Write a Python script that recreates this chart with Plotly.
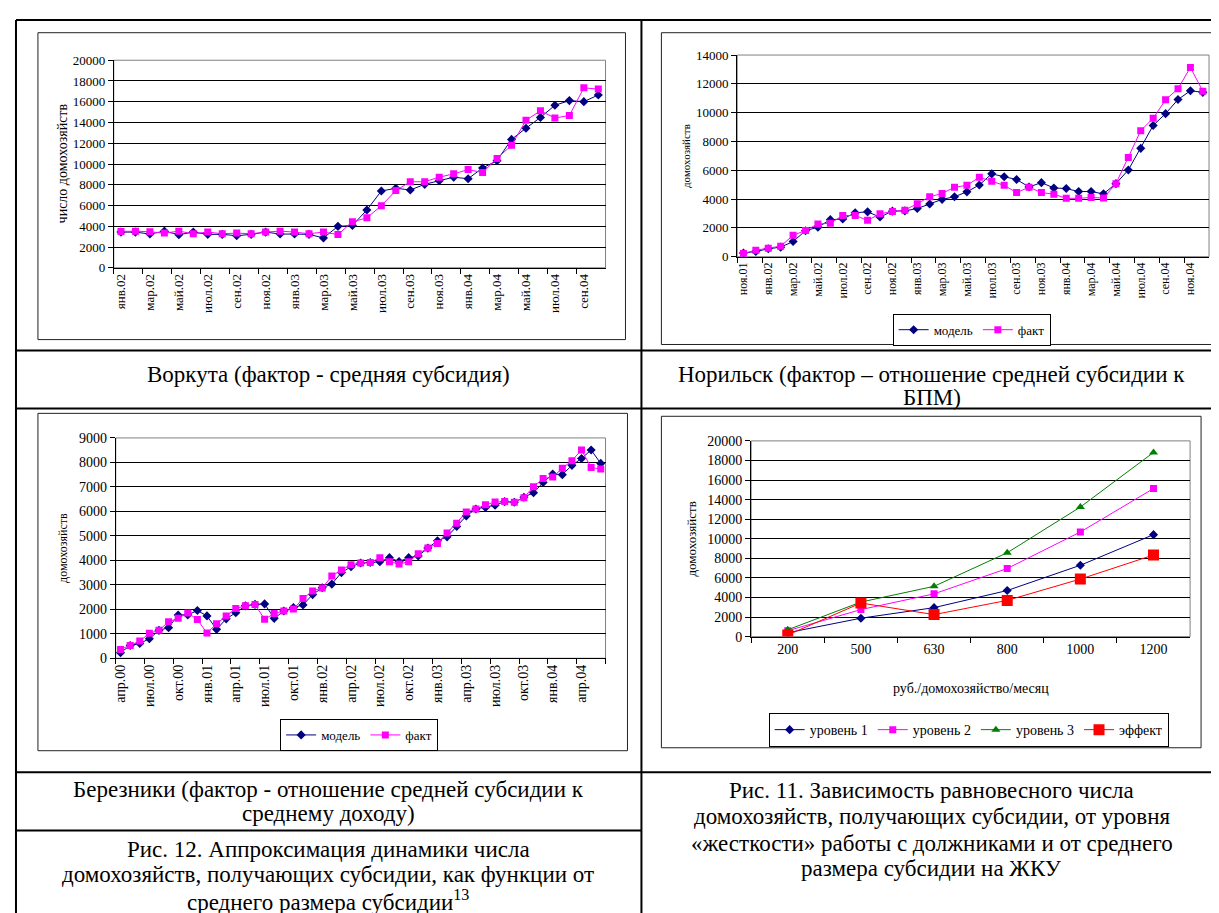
import plotly.graph_objects as go

W, H = 1219, 913
SERIF = "Liberation Serif, Times New Roman, serif"


def px(x):
    return x / W


def py(y):
    return 1 - y / H


MONTHS = ["янв", "фев", "мар", "апр", "май", "июн", "июл", "авг", "сен", "окт", "ноя", "дек"]


def month_labels(start_month, start_year, count):
    out = []
    m, y = start_month, start_year
    for _ in range(count):
        out.append(f"{MONTHS[m]}.{y:02d}")
        m += 1
        if m == 12:
            m, y = 0, y + 1
    return out


# ---------------- data ----------------
vorkuta_cats = month_labels(0, 2, 34)  # янв.02 .. окт.04
vorkuta_model = [3440, 3440, 3250, 3530, 3190, 3440, 3220, 3220, 3090, 3220, 3440, 3250, 3250, 3220, 2880,
                 3990, 4080, 5570, 7400, 7660, 7500, 8040, 8390, 8730, 8580, 9620, 10320, 12370, 13450,
                 14490, 15660, 16110, 16010, 16650]
vorkuta_fact = [3500, 3530, 3470, 3340, 3530, 3280, 3440, 3280, 3340, 3280, 3440, 3530, 3440, 3280, 3440,
                3200, 4430, 4810, 5980, 7440, 8290, 8290, 8730, 9050, 9460, 9180, 10540, 11800, 14210,
                15130, 14430, 14680, 17340, 17220]

norilsk_cats = month_labels(10, 1, 38)  # ноя.01 .. дек.04
norilsk_model = [250, 360, 545, 660, 1050, 1800, 2050, 2570, 2610, 3050, 3110, 2750, 3160, 3180, 3340, 3660,
                 3980, 4160, 4500, 4980, 5750, 5550, 5360, 4840, 5140, 4770, 4730, 4520, 4520, 4360, 5070,
                 6020, 7520, 9110, 9930, 10910, 11520, 11410]
norilsk_fact = [220, 450, 590, 730, 1480, 1820, 2270, 2320, 2860, 2860, 2520, 2980, 3140, 3230, 3680, 4160,
                4390, 4820, 4950, 5520, 5230, 4950, 4450, 4820, 4450, 4340, 4050, 4050, 4110, 4070, 5070,
                6890, 8750, 9610, 10890, 11660, 13140, 11480]

berezniki_cats = month_labels(3, 0, 51)  # апр.00 .. июн.04
berezniki_model = [230, 520, 600, 800, 1140, 1250, 1770, 1770, 1950, 1730, 1180, 1610, 1860, 2140, 2200,
                   2220, 1630, 1930, 2070, 2180, 2600, 2880, 3030, 3500, 3740, 3890, 3910, 3940, 4110, 3950,
                   4110, 4180, 4500, 4800, 4960, 5380, 5810, 6100, 6160, 6250, 6400, 6370, 6580, 6760, 7180,
                   7530, 7500, 7880, 8160, 8510, 7960]
berezniki_fact = [360, 520, 700, 1020, 1140, 1490, 1630, 1850, 1580, 1030, 1410, 1730, 2030, 2140, 2200,
                  1590, 1830, 1930, 2010, 2440, 2750, 2870, 3360, 3610, 3820, 3890, 3910, 4110, 3940, 3850,
                  3940, 4270, 4500, 4690, 5120, 5520, 5970, 6100, 6270, 6380, 6400, 6370, 6560, 7010, 7340,
                  7400, 7760, 8070, 8510, 7790, 7730]

subsidy_cats = ["200", "500", "630", "800", "1000", "1200"]
level1 = [400, 1880, 2960, 4710, 7290, 10420]
level2 = [600, 2760, 4370, 6960, 10690, 15130]
level3 = [700, 3530, 5140, 8570, 13240, 18820]
effect = [170, 3430, 2250, 3700, 5880, 8340]

NAVY = "#000080"
MAGENTA = "#FF00FF"
GREEN = "#008000"
RED = "#FF0000"

fig = go.Figure()


def model_fact(x, model, fact, xa, ya, legend, show):
    fig.add_trace(go.Scatter(x=x, y=model, name="модель", mode="lines+markers", xaxis=xa, yaxis=ya,
                             line=dict(color=NAVY, width=1), marker=dict(symbol="diamond", size=7, color=NAVY),
                             legend=legend, showlegend=show))
    fig.add_trace(go.Scatter(x=x, y=fact, name="факт", mode="lines+markers", xaxis=xa, yaxis=ya,
                             line=dict(color=MAGENTA, width=1), marker=dict(symbol="square", size=7, color=MAGENTA),
                             legend=legend, showlegend=show))


model_fact(vorkuta_cats, vorkuta_model, vorkuta_fact, "x", "y", "legend", False)
model_fact(norilsk_cats, norilsk_model, norilsk_fact, "x2", "y2", "legend", True)
model_fact(berezniki_cats, berezniki_model, berezniki_fact, "x3", "y3", "legend2", True)

fig.add_trace(go.Scatter(x=subsidy_cats, y=level1, name="уровень 1", mode="lines+markers", xaxis="x4", yaxis="y4",
                         line=dict(color=NAVY, width=1), marker=dict(symbol="diamond", size=7, color=NAVY),
                         legend="legend3"))
fig.add_trace(go.Scatter(x=subsidy_cats, y=level2, name="уровень 2", mode="lines+markers", xaxis="x4", yaxis="y4",
                         line=dict(color=MAGENTA, width=1), marker=dict(symbol="square", size=7, color=MAGENTA),
                         legend="legend3"))
fig.add_trace(go.Scatter(x=subsidy_cats, y=level3, name="уровень 3", mode="lines+markers", xaxis="x4", yaxis="y4",
                         line=dict(color=GREEN, width=1), marker=dict(symbol="triangle-up", size=8, color=GREEN),
                         legend="legend3"))
fig.add_trace(go.Scatter(x=subsidy_cats, y=effect, name="эффект", mode="lines+markers", xaxis="x4", yaxis="y4",
                         line=dict(color=RED, width=1), marker=dict(symbol="square", size=11, color=RED),
                         legend="legend3"))


def xcat(domain, n, dtick, size, angle=-90):
    return dict(domain=domain, type="category", range=[-0.5, n - 0.5], tickmode="linear", tick0=0, dtick=dtick,
                tickson="boundaries", tickangle=angle, ticks="outside", ticklen=5, tickcolor="black",
                showline=True, linecolor="black", linewidth=1, showgrid=False, zeroline=False,
                tickfont=dict(family=SERIF, size=size, color="black"))


def yval(domain, top, dtick, size):
    return dict(domain=domain, range=[0, top], dtick=dtick, tickmode="linear", tick0=0, tickformat="d",
                showgrid=True, gridcolor="black", gridwidth=1, ticks="outside", ticklen=5, tickcolor="black",
                showline=True, linecolor="black", linewidth=1, zeroline=False,
                tickfont=dict(family=SERIF, size=size, color="black"))


layout = dict(
    width=W, height=H, margin=dict(l=0, r=0, t=0, b=0),
    paper_bgcolor="white", plot_bgcolor="white",
    font=dict(family=SERIF, color="black"),
    xaxis=dict(xcat([px(103), px(596)], 34, 2, 13), anchor="y"),
    yaxis=dict(yval([py(257), py(46)], 20000, 2000, 13), anchor="x"),
    xaxis2=dict(xcat([px(728), px(1201)], 38, 2, 12), anchor="y2"),
    yaxis2=dict(yval([py(245.7), py(40.7)], 14000, 2000, 13), anchor="x2"),
    xaxis3=dict(xcat([px(105), px(596)], 51, 3, 14), anchor="y3"),
    yaxis3=dict(yval([py(654), py(430)], 9000, 1000, 14), anchor="x3"),
    xaxis4=dict(xcat([px(742), px(1182)], 6, 1, 14, angle=0), anchor="y4"),
    yaxis4=dict(yval([py(632), py(433)], 20000, 2000, 14), anchor="x4"),
    legend=dict(x=px(963), y=py(320), xanchor="center", yanchor="middle", orientation="h",
                bordercolor="black", borderwidth=1, bgcolor="white",
                font=dict(family=SERIF, size=13, color="black")),
    legend2=dict(x=px(349), y=py(732), xanchor="center", yanchor="middle", orientation="h",
                 bordercolor="black", borderwidth=1, bgcolor="white",
                 font=dict(family=SERIF, size=13, color="black")),
    legend3=dict(x=px(960), y=py(727), xanchor="center", yanchor="middle", orientation="h",
                 bordercolor="black", borderwidth=1, bgcolor="white",
                 font=dict(family=SERIF, size=14, color="black")),
)
fig.update_layout(**layout)

shapes = []
# plot area borders (grey)
for xr, yr in [("x", "y"), ("x2", "y2"), ("x3", "y3"), ("x4", "y4")]:
    shapes.append(dict(type="rect", xref=f"{xr} domain", yref=f"{yr} domain", x0=0, x1=1, y0=0, y1=1,
                       line=dict(color="#808080", width=1), layer="below"))
# chart frames
for x0, y0, x1, y1 in [(27, 18, 616, 330), (652, 18, 1213, 335), (27, 405, 618, 748), (652, 408, 1193, 745)]:
    shapes.append(dict(type="rect", xref="paper", yref="paper", x0=px(x0), x1=px(x1), y0=py(y0), y1=py(y1),
                       line=dict(color="#222222", width=1)))
# table lines
table = [(5, 5, 1215, 5), (5, 5, 5, 913), (1215, 5, 1215, 913), (632, 5, 632, 913),
         (5, 341, 1215, 341), (5, 400, 1215, 400), (5, 770, 1215, 770), (5, 829, 632, 829)]
for x0, y0, x1, y1 in table:
    shapes.append(dict(type="line", xref="paper", yref="paper", x0=px(x0), x1=px(x1), y0=py(y0), y1=py(y1),
                       line=dict(color="black", width=2)))
fig.update_layout(shapes=shapes)

ann = []


def text(x, y, s, size, angle=0):
    ann.append(dict(x=px(x), y=py(y), xref="paper", yref="paper", text=s, showarrow=False,
                    xanchor="center", yanchor="middle", textangle=angle,
                    font=dict(family=SERIF, size=size, color="black")))


# axis titles
text(52, 151, "число домохозяйств", 14, -90)
text(676, 143, "домохозяйств", 11, -90)
text(52, 542, "домохозяйств", 12, -90)
text(682, 533, "домохозяйств", 13, -90)
text(962, 685, "руб./домохозяйство/месяц", 14)

# captions
CAP = 23
text(318, 366, "Воркута (фактор - средняя субсидия)", CAP)
text(923, 366, "Норильск (фактор – отношение средней субсидии к", CAP)
text(923, 389, "БПМ)", CAP)
text(318, 787, "Березники (фактор - отношение средней субсидии к", CAP)
text(318, 812, "среднему доходу)", CAP)
text(318, 848, "Рис. 12. Аппроксимация динамики числа", CAP)
text(318, 874, "домохозяйств, получающих субсидии, как функции от", CAP)
text(318, 900, "среднего размера субсидии<sup>13</sup>", CAP)
text(923, 788, "Рис. 11. Зависимость равновесного числа", CAP)
text(923, 815, "домохозяйств, получающих субсидии, от уровня", CAP)
text(923, 842, "«жесткости» работы с должниками и от среднего", CAP)
text(923, 868, "размера субсидии на ЖКУ", CAP)

fig.update_layout(annotations=ann)
fig.write_html("out.html")
